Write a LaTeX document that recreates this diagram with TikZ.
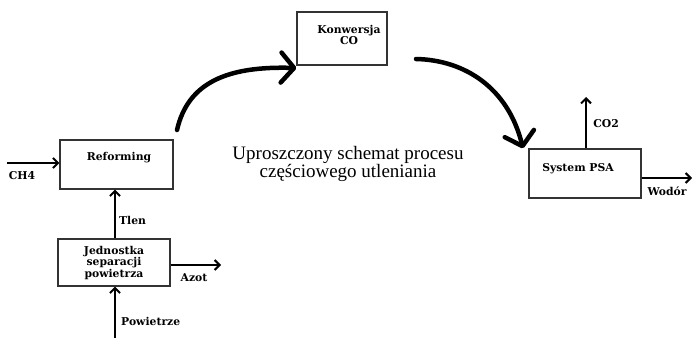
\documentclass[tikz,border=0pt]{standalone}
\usepackage{fontspec}
\setmainfont{Liberation Serif}
\newfontfamily\lblfont{DejaVu Serif}
\usetikzlibrary{arrows.meta}
\begin{document}
\begin{tikzpicture}[x=1pt,y=1pt,
  boxst/.style={draw=black!80, line width=1.3pt, minimum width=#1, inner sep=0pt, fill=white},
  lbl/.style={font=\lblfont\bfseries\fontsize{10.8}{12.5}\selectfont, align=center, inner sep=0pt},
  flow/.style={line width=2.4pt, -{Straight Barb[length=5pt,width=10pt,line width=2pt]}},
  bigarrow/.style={line width=4.5pt, line cap=round, -{Straight Barb[length=13pt,width=30pt,line width=4.5pt, round]}}
]
\useasboundingbox (0,0) rectangle (692,338);
% boxes
\node[boxst=113pt, minimum height=49pt] (ref) at (116.5,173.5) {};
\node[lbl] at (119,180) {Reforming};
\node[boxst=112pt, minimum height=47pt] (jed) at (114,75.5) {};
\node[lbl] (jedt) at (114,75) {Jednostka\\[-1pt]separacji\\[-1pt]powietrza};
\node[boxst=90pt, minimum height=53pt] (kon) at (342,299.5) {};
\node[lbl] at (349,303) {Konwersja\\[-1pt]CO};
\node[boxst=112pt, minimum height=49pt] (psa) at (585,164.5) {};
\node[lbl] at (578,169) {System PSA};
% title
\node[font=\fontsize{19}{16}\selectfont, align=center, inner sep=0pt] (title) at (348,174) {Uproszczony schemat procesu\\częściowego utleniania};
% coordinates
\coordinate (ch4s) at (7,175);
\coordinate (azote) at (221,73);
\coordinate (pows) at (115,0);
\coordinate (co2e) at (586,241);
\coordinate (wode) at (692,160);
\draw[flow] (ch4s) -- (ch4s -| ref.west);
\node[lbl] at (22,162) {CH4};
\draw[flow] (jed.north -| 115,0) -- (ref.south -| 115,0);
\node[lbl, anchor=west] at (119,118) {Tlen};
\draw[flow] (jed.east |- azote) -- (azote);
\node[lbl] at (194,60) {Azot};
\draw[flow] (pows) -- (jed.south -| pows);
\node[lbl, anchor=west] at (121,17) {Powietrze};
\draw[flow] (psa.north -| co2e) -- (co2e);
\node[lbl] at (606,214) {CO2};
\draw[flow] (psa.east |- wode) -- (wode);
\node[lbl] at (667,147) {Wodór};
% big arrows
\coordinate (a1s) at (177,208);
\coordinate (a2s) at (416,279);
\draw[bigarrow] (a1s) .. controls (188,256) and (228,272) .. (kon.west |- 0,270);
\draw[bigarrow] (a2s) .. controls (465,278) and (508,250) .. (psa.north west -| 523,0);
\end{tikzpicture}
\end{document}
